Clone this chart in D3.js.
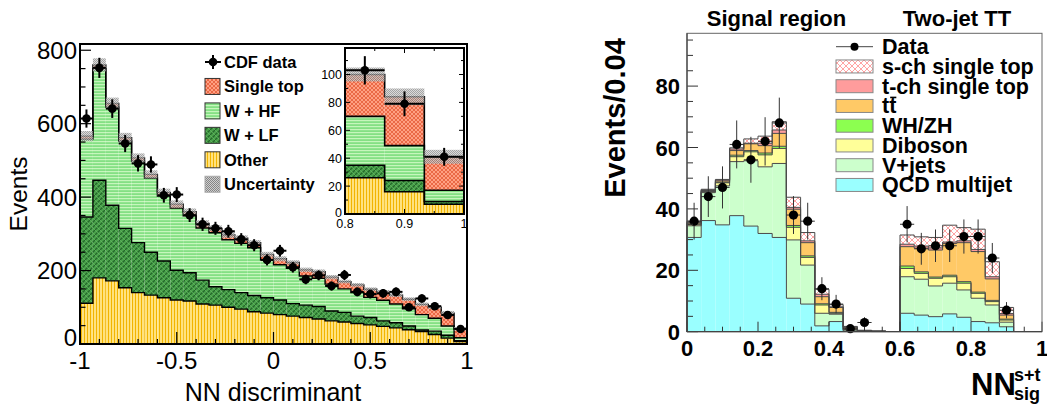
<!DOCTYPE html>
<html><head><meta charset="utf-8">
<script src="https://cdn.jsdelivr.net/npm/d3@7"></script>
<style>body{margin:0;background:#fff}svg{display:block}text{font-family:"Liberation Sans",Arial,Helvetica,sans-serif}</style>
</head><body><svg id="c" width="1047" height="409"></svg>
<script>
// ================= LEFT PANEL (CDF) DATA =================
const cdfNBins = 30;
const cdfData      = [614,752,641,546,492,489,405,407,351,326,315,307,285,269,229,254,209,176,187,158,188,142,136,138,142,100,124,103,79,41];
const cdfOther     = [111,180,172,153,140,133,126,120,117,109,106,100,95,88,84,80,76,72,68,63,60,56,52,48,44,39,34,26,16,7];
const cdfWLF       = [235,266,206,162,136,117,100,81,77,65,50,48,45,44,42,40,34,34,34,27,26,20,20,15,14,10,4,9,8,2];
const cdfWHF       = [212,304,267,238,222,202,177,169,155,142,147,136,134,130,103,96,96,79,77,73,64,64,55,56,51,47,42,35,25,8];
const cdfSingleTop = [8,10,10,9,9,10,10,11,11,12,12,13,14,14,15,16,16,17,18,19,20,21,22,23,24,26,28,30,35,24];
const cdfUncert    = [14,18,16,13,12,11,10,10,9,9,8,8,8,7,7,7,6,6,6,6,5,5,5,5,5,5,5,5,6,5];
const cdfXTicks = [-1,-0.5,0,0.5,1];
const cdfXTickLabels = ["-1","-0.5","0","0.5","1"];
const cdfYTicks = [0,200,400,600,800];
const cdfInsetYTicks = [0,20,40,60,80,100];
const cdfInsetXTicks = [0.8,0.9,1];
const cdfInsetXTickLabels = ["0.8","0.9","1"];
const cdfLegend = ["CDF data","Single top","W + HF","W + LF","Other","Uncertainty"];

// ================= RIGHT PANEL (D0) DATA =================
const d0NBins = 25;
const d0Data    = [36,44,47,61,56,62,68,38,36,14,9,1,3,null,null,35,27,28,28,31,31,24,7,null,null];
const d0QCD     = [30.7,36.2,34.8,37.8,34.4,32.0,30.7,10.9,9.0,1.9,3.3,0.2,0.1,0.05,null,6.0,5.4,4.9,5.8,4.7,3.3,2.9,1.6,null,null];
const d0VJets   = [3.8,9.1,12.7,17.6,21.3,21.7,24.1,19.0,12.7,4.1,2.4,0.4,0.1,0.05,null,11.9,11.7,10.0,10.0,8.9,7.6,5.8,1.5,null,null];
const d0Diboson = [0.5,0.3,1.0,1.6,2.9,3.9,4.9,4.1,2.5,2.7,0.3,0.1,0.05,0.02,null,2.7,1.9,2.5,2.1,2.2,1.6,1.1,0.7,null,null];
const d0WHZH    = [0.1,0.1,0.2,0.5,0.4,0.6,0.7,0.6,0.5,0.4,0.3,0.02,0.01,0,null,0.8,0.5,0.4,0.5,0.5,0.4,0.4,0.3,null,null];
const d0TTbar   = [0.4,0.3,0.4,1.5,2.2,2.4,4.2,5.3,4.3,2.3,1.6,0.7,0.1,0.05,null,6.3,7.7,8.8,10.3,12.7,13.2,7.0,1.3,null,null];
const d0TChan   = [0.2,0.2,0.3,0.5,0.2,0.8,1.1,0.6,0.6,0.8,0.2,0.1,0.05,0,null,0.8,0.7,0.7,0.5,0.6,0.7,0.7,0.5,null,null];
const d0SChan   = [0.3,0.2,0.2,0.4,1.4,2.3,2.7,3.3,2.7,1.6,0.7,0.2,0.05,0.02,null,3.0,3.0,3.4,5.5,4.3,6.6,4.9,2.0,null,null];
const d0XTicks = [0,0.2,0.4,0.6,0.8,1];
const d0XTickLabels = ["0","0.2","0.4","0.6","0.8","1"];
const d0YTicks = [0,20,40,60,80];
const d0Titles = ["Signal region","Two-jet TT"];
const d0Legend = ["Data","s-ch single top","t-ch single top","tt","WH/ZH","Diboson","V+jets","QCD multijet"];

// ================= SETUP =================
const svg = d3.select("#c");
const defs = svg.append("defs");
function pat(id, w, h, bg, draw) {
  const p = defs.append("pattern").attr("id", id).attr("patternUnits","userSpaceOnUse").attr("width",w).attr("height",h);
  p.append("rect").attr("width",w).attr("height",h).attr("fill",bg);
  draw(p);
}
pat("pOther",3,6,"#ffe27e",p=>p.append("rect").attr("width",1).attr("height",6).attr("fill","#f2b400"));
pat("pWHF",6,3,"#84e084",p=>p.append("rect").attr("width",6).attr("height",1.2).attr("fill","#c6f6bc"));
pat("pWLF",5,5,"#4aa24a",p=>{
  p.append("path").attr("d","M0,5L5,0M-1,1L1,-1M4,6L6,4").attr("stroke","#23692a").attr("stroke-width",1.3);
  p.append("path").attr("d","M0,0L5,5").attr("stroke","#6fbf6f").attr("stroke-width",0.6);
});
pat("pST",4,4,"#ffa083",p=>p.append("path").attr("d","M0,0L4,4M4,0L0,4").attr("stroke","#e45a36").attr("stroke-width",0.8));
pat("pUnc",2,2,"#cfcfcf",p=>{
  p.append("rect").attr("width",1).attr("height",1).attr("fill","#858585");
  p.append("rect").attr("x",1).attr("y",1).attr("width",1).attr("height",1).attr("fill","#858585");
});
pat("pSch",6,6,"#ffffff",p=>p.append("path").attr("d","M0,0L6,6M6,0L0,6").attr("stroke","#ff9a9a").attr("stroke-width",0.9));

const stepLine = (xS, yS) => d3.line().x(d => xS(d[0])).y(d => yS(d[1]));

// draw stacked step histogram over bins given list of contiguous segments
function drawStack(g, series, edges, segments, xS, yS, fills, lineColor, lineW) {
  series.forEach((s, k) => {
    segments.forEach(seg => {
      seg.forEach(i => {
        const lo = s[i][0], hi = s[i][1];
        if (hi - lo <= 0) return;
        g.append("rect").attr("x", xS(edges[i])).attr("width", xS(edges[i+1]) - xS(edges[i]))
          .attr("y", yS(hi)).attr("height", yS(lo) - yS(hi)).attr("fill", fills[k]);
      });
    });
  });
  series.forEach((s, k) => {
    segments.forEach(seg => {
      const pts = [[edges[seg[0]], 0]];
      seg.forEach(i => { pts.push([edges[i], s[i][1]]); pts.push([edges[i+1], s[i][1]]); });
      pts.push([edges[seg[seg.length-1]+1], 0]);
      g.append("path").attr("d", stepLine(xS, yS)(pts)).attr("fill","none")
        .attr("stroke", lineColor).attr("stroke-width", lineW);
    });
  });
}

// ================= LEFT PANEL =================
const xL = d3.scaleLinear().domain([-1,1]).range([80,467]);
const yL = d3.scaleLinear().domain([0,817]).range([344,44]);
const cdfEdges = d3.range(cdfNBins+1).map(i => -1 + i*2/cdfNBins);
const cdfRows = cdfData.map((_, i) => ({other: cdfOther[i], wlf: cdfWLF[i], whf: cdfWHF[i], st: cdfSingleTop[i]}));
const cdfKeys = ["other","wlf","whf","st"];
const cdfFills = ["url(#pOther)","url(#pWLF)","url(#pWHF)","url(#pST)"];
const cdfSeries = d3.stack().keys(cdfKeys)(cdfRows);
const cdfTotal = cdfRows.map((r,i) => cdfSeries[3][i][1]);

function drawCDF(g, xS, yS, bins, r, ew, lw) {
  drawStack(g, cdfSeries, cdfEdges, [bins], xS, yS, cdfFills, "#000", lw);
  bins.forEach(i => {
    g.append("rect").attr("x", xS(cdfEdges[i])).attr("width", xS(cdfEdges[i+1]) - xS(cdfEdges[i]))
      .attr("y", yS(cdfTotal[i] + cdfUncert[i])).attr("height", yS(cdfTotal[i] - cdfUncert[i]) - yS(cdfTotal[i] + cdfUncert[i]))
      .attr("fill","url(#pUnc)").attr("opacity",0.75);
  });
  bins.forEach(i => {
    const xc = xS((cdfEdges[i]+cdfEdges[i+1])/2), v = cdfData[i], e = Math.sqrt(v);
    const hw = (xS(cdfEdges[i+1]) - xS(cdfEdges[i]))/2;
    g.append("line").attr("x1", xc).attr("x2", xc).attr("y1", yS(v+e)).attr("y2", yS(v-e)).attr("stroke","#000").attr("stroke-width",ew);
    g.append("line").attr("x1", xc-hw).attr("x2", xc+hw).attr("y1", yS(v)).attr("y2", yS(v)).attr("stroke","#000").attr("stroke-width",ew);
    g.append("circle").attr("cx", xc).attr("cy", yS(v)).attr("r", r).attr("fill","#000");
  });
}
const gL = svg.append("g");
drawCDF(gL, xL, yL, d3.range(cdfNBins), 4.3, 2, 1.4);

// Left axes ticks
d3.range(0, 801, 50).forEach(v => {
  const major = v % 200 === 0;
  gL.append("line").attr("x1",80).attr("x2",80 + (major?11:5.5)).attr("y1",yL(v)).attr("y2",yL(v)).attr("stroke","#000").attr("stroke-width",1.2);
});
d3.range(-10, 11).forEach(k => {
  const v = k/10, major = k % 5 === 0;
  gL.append("line").attr("x1",xL(v)).attr("x2",xL(v)).attr("y1",344).attr("y2",344-(major?12:5)).attr("stroke","#000").attr("stroke-width",1.2);
});
gL.append("rect").attr("x",80).attr("y",44).attr("width",387).attr("height",300).attr("fill","none").attr("stroke","#000").attr("stroke-width",2);
cdfYTicks.forEach(v => gL.append("text").attr("x",77).attr("y",yL(v) + (v === 0 ? 2 : 8.5)).attr("text-anchor","end").attr("font-size",24).text(v));
cdfXTicks.forEach((v,i) => gL.append("text").attr("x",xL(v)).attr("y",369).attr("text-anchor","middle").attr("font-size",24).text(cdfXTickLabels[i]));
gL.append("text").attr("transform","translate(27,194) rotate(-90)").attr("text-anchor","middle").attr("font-size",24.5).text("Events");
gL.append("text").attr("x",273).attr("y",401).attr("text-anchor","middle").attr("font-size",25).text("NN discriminant");

// Left legend
const legLFills = [null,"url(#pST)","url(#pWHF)","url(#pWLF)","url(#pOther)","url(#pUnc)"];
cdfLegend.forEach((lab, k) => {
  const yc = 62 + k*24.45;
  if (k === 0) {
    gL.append("line").attr("x1",205).attr("x2",221).attr("y1",yc).attr("y2",yc).attr("stroke","#000").attr("stroke-width",2);
    gL.append("line").attr("x1",213).attr("x2",213).attr("y1",yc-7).attr("y2",yc+7).attr("stroke","#000").attr("stroke-width",2);
    gL.append("circle").attr("cx",213).attr("cy",yc).attr("r",4.3).attr("fill","#000");
  } else {
    gL.append("rect").attr("x",205).attr("y",yc-8).attr("width",15).attr("height",16).attr("fill",legLFills[k])
      .attr("stroke", k===5 ? "#aaa" : "#333").attr("stroke-width",1);
  }
  gL.append("text").attr("x",224).attr("y",yc+6).attr("font-size",16.5).attr("font-weight","bold").text(lab);
});

// Inset
const xI = d3.scaleLinear().domain([0.8,1]).range([345,464]);
const yI = d3.scaleLinear().domain([0,119]).range([214,48]);
const gI = svg.append("g");
gI.append("rect").attr("x",345).attr("y",48).attr("width",119).attr("height",166).attr("fill","#fff");
drawCDF(gI, xI, yI, d3.range(cdfNBins).filter(i => cdfEdges[i] >= 0.8 - 1e-9), 4.3, 2, 1.6);
d3.range(0, 111, 10).forEach(v => {
  const l = v % 20 === 0 ? 5 : 3;
  gI.append("line").attr("x1",345).attr("x2",345+l).attr("y1",yI(v)).attr("y2",yI(v)).attr("stroke","#000");
  gI.append("line").attr("x1",464).attr("x2",464-l).attr("y1",yI(v)).attr("y2",yI(v)).attr("stroke","#000");
});
[0.8,0.85,0.9,0.95,1].forEach((v,k) => {
  const l = k % 2 === 0 ? 5 : 3;
  gI.append("line").attr("x1",xI(v)).attr("x2",xI(v)).attr("y1",214).attr("y2",214-l).attr("stroke","#000");
  gI.append("line").attr("x1",xI(v)).attr("x2",xI(v)).attr("y1",48).attr("y2",48+l).attr("stroke","#000");
});
gI.append("rect").attr("x",345).attr("y",48).attr("width",119).attr("height",166).attr("fill","none").attr("stroke","#000").attr("stroke-width",2);
cdfInsetYTicks.forEach(v => gI.append("text").attr("x",342).attr("y",yI(v) + (v === 0 ? 2.5 : 4.5)).attr("text-anchor","end").attr("font-size",12.5).text(v));
cdfInsetXTicks.forEach((v,i) => gI.append("text").attr("x",xI(v)).attr("y",228).attr("text-anchor","middle").attr("font-size",12.5).text(cdfInsetXTickLabels[i]));

// ================= RIGHT PANEL =================
const xR = d3.scaleLinear().domain([0,1]).range([687,1042]);
const yR = d3.scaleLinear().domain([0,97.2]).range([331.7,33.3]);
const d0Edges = d3.range(d0NBins+1).map(i => i/d0NBins);
const d0Keys = ["qcd","vj","db","wh","tt","tc","sc"];
const d0Rows = d0QCD.map((_, i) => ({qcd:d0QCD[i]||0, vj:d0VJets[i]||0, db:d0Diboson[i]||0, wh:d0WHZH[i]||0, tt:d0TTbar[i]||0, tc:d0TChan[i]||0, sc:d0SChan[i]||0}));
const d0Series = d3.stack().keys(d0Keys)(d0Rows);
const d0Fills = ["#9affff","#ccffcc","#ffff99","#8cff50","#ffc966","#ff9c9c","url(#pSch)"];
const d0Segs = [];
let cur = [];
d0QCD.forEach((v,i) => { if (v === null) { if (cur.length) d0Segs.push(cur); cur = []; } else cur.push(i); });
if (cur.length) d0Segs.push(cur);
const gR = svg.append("g");
drawStack(gR, d0Series, d0Edges, d0Segs, xR, yR, d0Fills, "#4a4a4a", 1);
d0Data.forEach((v,i) => {
  if (v === null || v <= 0) return;
  const xc = xR((d0Edges[i]+d0Edges[i+1])/2), e = Math.sqrt(v);
  const hw = (xR(d0Edges[i+1]) - xR(d0Edges[i]))/2;
  gR.append("line").attr("x1",xc).attr("x2",xc).attr("y1",yR(v+e)).attr("y2",yR(Math.max(0,v-e))).attr("stroke","#333").attr("stroke-width",1);
  gR.append("line").attr("x1",xc-hw).attr("x2",xc+hw).attr("y1",yR(v)).attr("y2",yR(v)).attr("stroke","#333").attr("stroke-width",1);
  gR.append("circle").attr("cx",xc).attr("cy",yR(v)).attr("r",4.6).attr("fill","#000");
});
d3.range(0, 96, 5).forEach(v => {
  const major = v % 20 === 0;
  gR.append("line").attr("x1",687).attr("x2",687+(major?11:6)).attr("y1",yR(v)).attr("y2",yR(v)).attr("stroke","#333").attr("stroke-width",1);
});
d3.range(0, 21).forEach(k => {
  const v = k*0.05, major = k % 4 === 0;
  gR.append("line").attr("x1",xR(v)).attr("x2",xR(v)).attr("y1",331.7).attr("y2",331.7-(major?10:5)).attr("stroke","#333").attr("stroke-width",1);
});
gR.append("rect").attr("x",687).attr("y",33.3).attr("width",355).attr("height",298.4).attr("fill","none").attr("stroke","#666").attr("stroke-width",1);
gR.append("line").attr("x1",687).attr("x2",687).attr("y1",33.3).attr("y2",331.7).attr("stroke","#444").attr("stroke-width",1.2);
gR.append("line").attr("x1",687).attr("x2",1042).attr("y1",331.7).attr("y2",331.7).attr("stroke","#444").attr("stroke-width",1.2);
d0YTicks.forEach(v => gR.append("text").attr("x",680).attr("y",yR(v)+8).attr("text-anchor","end").attr("font-size",22).attr("font-weight","bold").text(v));
d0XTicks.forEach((v,i) => gR.append("text").attr("x",xR(v)).attr("y",356).attr("text-anchor","middle").attr("font-size",22).attr("font-weight","bold").text(d0XTickLabels[i]));
gR.append("text").attr("transform","translate(625,118) rotate(-90)").attr("text-anchor","middle").attr("font-size",29).attr("font-weight","bold").text("Events/0.04");
[776.5, 957].forEach((xc,k) => gR.append("text").attr("x",xc).attr("y",26).attr("text-anchor","middle").attr("font-size",22).attr("font-weight","bold").text(d0Titles[k]));
gR.append("text").attr("x",971).attr("y",395).attr("font-size",31).attr("font-weight","bold").text("NN");
gR.append("text").attr("x",1014).attr("y",381).attr("font-size",18).attr("font-weight","bold").text("s+t");
gR.append("text").attr("x",1014).attr("y",400).attr("font-size",18).attr("font-weight","bold").text("sig");

const legRFills = [null,"url(#pSch)","#ff9c9c","#ffc966","#8cff50","#ffff99","#ccffcc","#9affff"];
d0Legend.forEach((lab,k) => {
  const yc = 46.7 + k*19.75;
  if (k === 0) {
    gR.append("line").attr("x1",836).attr("x2",873).attr("y1",yc).attr("y2",yc).attr("stroke","#444").attr("stroke-width",1);
    gR.append("circle").attr("cx",854.5).attr("cy",yc).attr("r",4).attr("fill","#000");
  } else {
    gR.append("rect").attr("x",836).attr("y",yc-6.5).attr("width",37).attr("height",13).attr("fill",legRFills[k]).attr("stroke","#888").attr("stroke-width",1);
  }
  const t = gR.append("text").attr("x",882).attr("y",yc+7.5).attr("font-size",21.5).attr("font-weight","bold").text(lab);
  if (lab === "tt") {
    const tw = t.node().getComputedTextLength()/2;
    gR.append("line").attr("x1",882+tw+1).attr("x2",882+2*tw).attr("y1",yc-8.5).attr("y2",yc-8.5).attr("stroke","#000").attr("stroke-width",1.6);
  }
});
</script></body></html>
